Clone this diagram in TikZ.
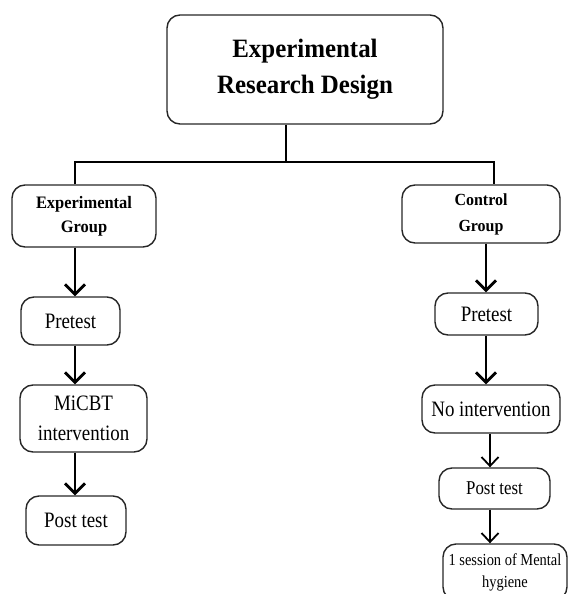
\documentclass[tikz,border=0pt]{standalone}
\usepackage{fontspec}
\setmainfont[FakeStretch=0.86]{Liberation Serif}
\newfontfamily\headfont[FakeStretch=0.94]{Liberation Serif}
\usetikzlibrary{arrows.meta}

\begin{document}
\begin{tikzpicture}[x=1pt,y=-1pt,
  box/.style={draw=black!85,line width=1.4pt,rounded corners=13pt,inner sep=0pt,align=center},
  arr/.style={line width=2.7pt,-{Straight Barb[length=10pt,width=20pt,line width=2.7pt]}},
  arrthin/.style={line width=1.8pt,-{Straight Barb[length=9pt,width=17pt,line width=1.8pt]}}]
  \useasboundingbox (0,0) rectangle (568,594);
  % top of the tree
  \node[box,minimum width=276pt,minimum height=109pt,font=\headfont\fontsize{26.5}{36}\selectfont\bfseries]
    (top) at (305,69.5) {Experimental\\Research Design};
  % experimental arm
  \node[box,minimum width=144pt,minimum height=62pt,font=\headfont\fontsize{17.5}{24}\selectfont\bfseries]
    (eg) at (84,216) {Experimental\\Group};
  \node[box,minimum width=99pt,minimum height=48pt,font=\fontsize{22}{30}\selectfont]
    (pre1) at (70.5,321) {Pretest};
  \node[box,minimum width=127pt,minimum height=67pt,font=\fontsize{22}{30}\selectfont]
    (micbt) at (83.5,418.5) {MiCBT\\intervention};
  \node[box,minimum width=100pt,minimum height=49pt,font=\fontsize{22}{30}\selectfont]
    (post1) at (76,520.5) {Post test};
  % control arm
  \node[box,minimum width=158pt,minimum height=58pt,font=\headfont\fontsize{17}{26}\selectfont\bfseries]
    (cg) at (481,214) {Control\\Group};
  \node[box,minimum width=103pt,minimum height=42pt,font=\fontsize{22}{30}\selectfont]
    (pre2) at (486.5,314) {Pretest};
  \node[box,minimum width=138pt,minimum height=48pt,font=\fontsize{22}{30}\selectfont]
    (noint) at (491,409) {No intervention};
  \node[box,minimum width=111pt,minimum height=41pt,font=\fontsize{19.6}{26}\selectfont]
    (post2) at (494.5,488.5) {Post test};
  \node[box,minimum width=124pt,minimum height=56pt,font=\fontsize{16.8}{22}\selectfont]
    (hyg) at (505,572) {1 session of Mental\\hygiene};
  % branching lines
  \coordinate (hub) at (286,162);
  \coordinate (lbr) at (75,162);
  \coordinate (rbr) at (494,162);
  \coordinate (lcol) at (75,0);
  \coordinate (rcol) at (486,0);
  \coordinate (rcol2) at (490,0);
  \draw[line width=1.2pt] (top.south -| hub) -- (hub);
  \draw[line width=1.2pt] (eg.north -| lbr) -- (lbr) -- (rbr) -- (cg.north -| rbr);
  % arrows
  \draw[arr] (eg.south -| lcol) -- (pre1.north -| lcol);
  \draw[arr] (pre1.south -| lcol) -- (micbt.north -| lcol);
  \draw[arr] (micbt.south -| lcol) -- (post1.north -| lcol);
  \draw[arr] (cg.south -| rcol) -- (pre2.north -| rcol);
  \draw[arr] (pre2.south -| rcol) -- (noint.north -| rcol);
  \draw[arrthin] (noint.south -| rcol2) -- (post2.north -| rcol2);
  \draw[arrthin] (post2.south -| rcol2) -- (hyg.north -| rcol2);
\end{tikzpicture}
\end{document}
